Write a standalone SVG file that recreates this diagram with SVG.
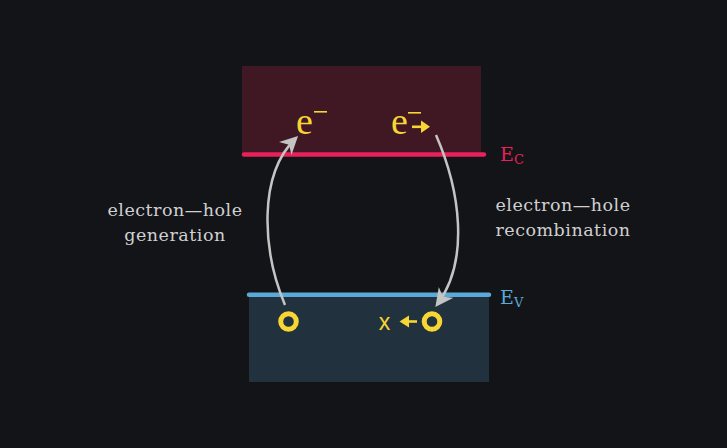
<svg xmlns="http://www.w3.org/2000/svg" width="727" height="448" viewBox="0 0 727 448">
<style>
.lbl{font-family:"DejaVu Serif","Liberation Serif",serif;font-size:17.5px;letter-spacing:0.5px;fill:#d0d0d0;text-anchor:middle}
.e{font-family:"Liberation Serif","DejaVu Serif",serif;font-size:38px;fill:#f6d534}
.conn{fill:none;stroke:#c4c4c4;stroke-width:2.5}
.hole{fill:none;stroke:#f6d534;stroke-width:5}
.y{fill:#f6d534}
</style>
<defs>
<marker id="ah" viewBox="0 0 10 10" refX="8" refY="5" markerWidth="18" markerHeight="18" orient="auto" markerUnits="userSpaceOnUse">
<path d="M0,0 L10,5 L0,10 L3,5 Z" fill="#c4c4c4"/>
</marker>
</defs>
<rect width="727" height="448" fill="#131418"/>
<g id="conduction-band">
<rect x="242" y="66" width="239" height="88" fill="#3f1824"/>
<line x1="244" y1="154.5" x2="484" y2="154.5" stroke="#e8215a" stroke-width="4.5" stroke-linecap="round"/>
<text x="500" y="161" font-family="DejaVu Serif, Liberation Serif, serif" font-size="19" fill="#e8215a">E<tspan font-size="13" dy="3">C</tspan></text>
</g>
<g id="valence-band">
<rect x="249" y="295" width="240" height="87" fill="#21313e"/>
<line x1="249" y1="294.7" x2="489" y2="294.7" stroke="#5aa9d8" stroke-width="4.5" stroke-linecap="round"/>
<text x="500" y="304" font-family="DejaVu Serif, Liberation Serif, serif" font-size="19" fill="#5aa9d8">E<tspan font-size="13" dy="3">V</tspan></text>
</g>
<g id="electron-1">
<text class="e" x="296" y="134">e</text>
<rect x="314" y="111" width="13" height="1.6" class="y"/>
</g>
<g id="electron-2">
<text class="e" x="391" y="134">e</text>
<rect x="408" y="112" width="13" height="1.6" class="y"/>
<rect x="412" y="125.5" width="11" height="2.6" class="y"/>
<path d="M421,120.5 L430,126.8 L421,133 Z" class="y"/>
</g>
<g id="hole-1">
<circle cx="288.5" cy="321.5" r="7.8" class="hole"/>
</g>
<g id="hole-2">
<circle cx="432" cy="321.5" r="7.8" class="hole"/>
<path d="M408,320.2 L417,320.2 L417,322.8 L408,322.8 Z" class="y"/>
<path d="M409,315.5 L399.5,321.5 L409,327.5 Z" class="y"/>
<text x="384.5" y="329.5" font-family="Liberation Sans, Arial, sans-serif" font-size="23" fill="#f6d534" text-anchor="middle">x</text>
</g>
<g id="label-generation">
<text class="lbl" x="175" y="216">electron—hole</text>
<text class="lbl" x="175" y="241">generation</text>
</g>
<g id="label-recombination">
<text class="lbl" x="563" y="211">electron—hole</text>
<text class="lbl" x="563" y="236">recombination</text>
</g>
<g id="connectors">
<path class="conn" marker-end="url(#ah)" d="M285,305 C262,250 258,175 295.5,138.5"/>
<path class="conn" marker-end="url(#ah)" d="M436,135 C460,190 470,260 437.5,304"/>
</g>
</svg>
